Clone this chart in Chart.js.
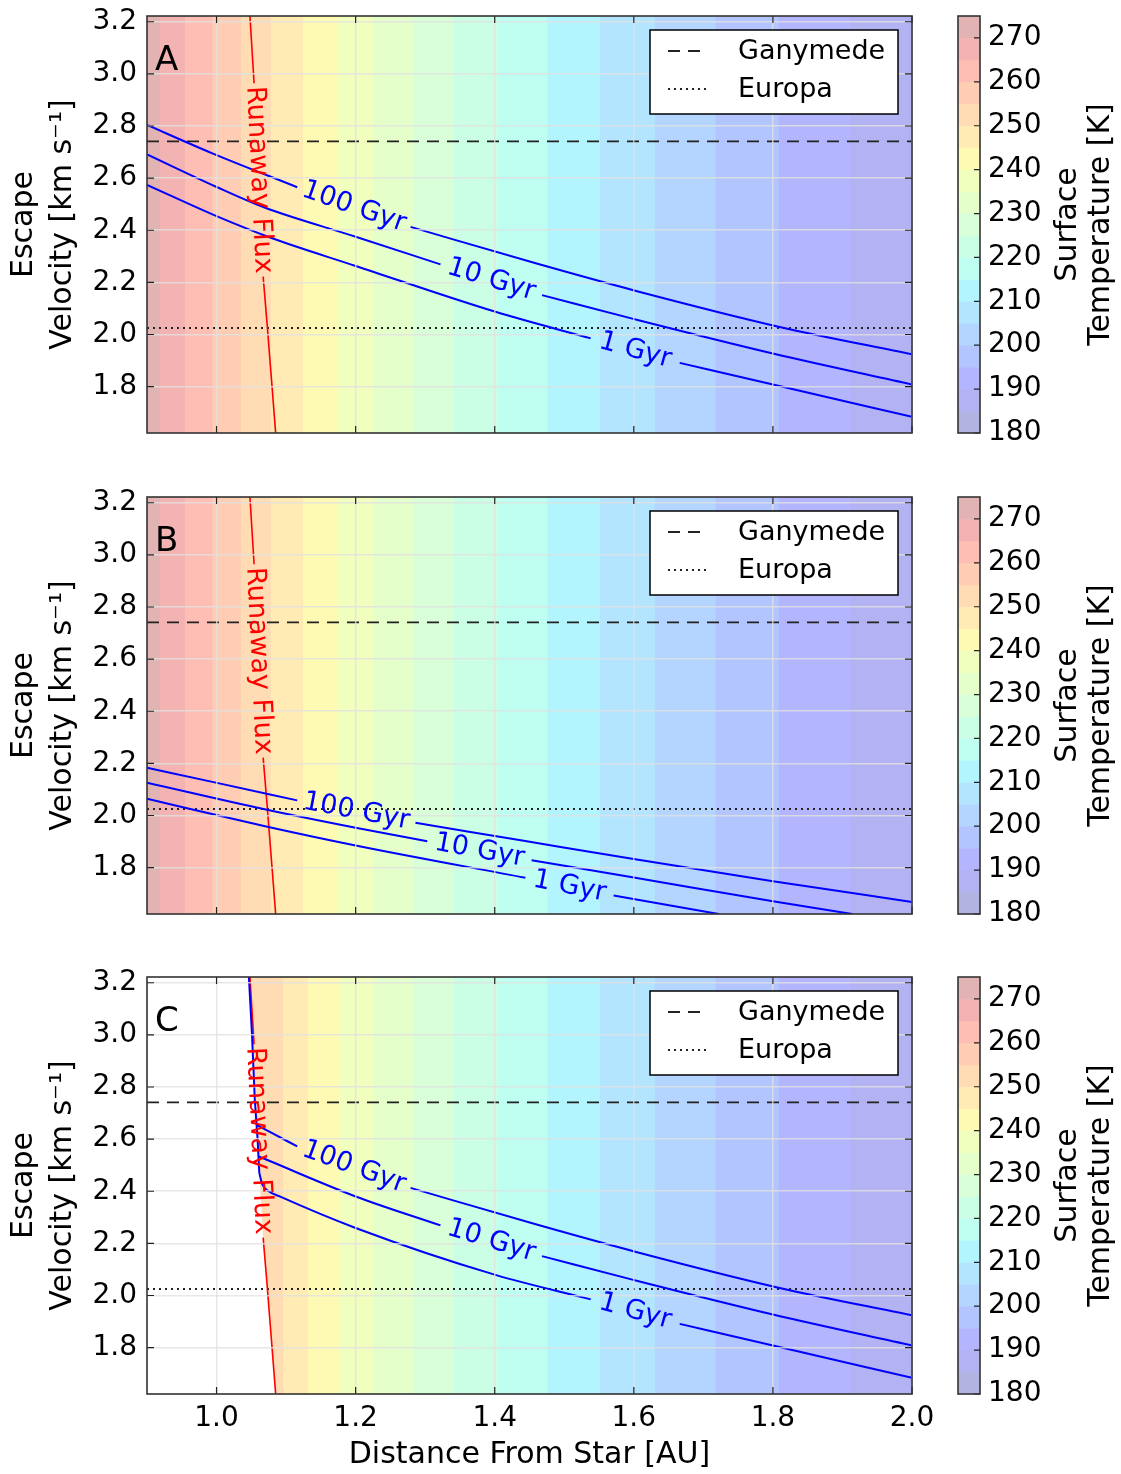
<!DOCTYPE html>
<html>
<head>
<meta charset="utf-8">
<script src="https://cdn.jsdelivr.net/npm/chart.js@4.4.1/dist/chart.umd.min.js"></script>
<style>
  html, body { margin: 0; padding: 0; background: #fff; }
  #wrap { position: relative; width: 1121px; height: 1474px; overflow: hidden; }
  canvas { position: absolute; }
</style>
</head>
<body>
<div id="wrap">
  <canvas id="plotA" width="940" height="481" style="left:0;top:0"></canvas>
  <canvas id="barA" width="181" height="481" style="left:940px;top:0"></canvas>
  <canvas id="plotB" width="940" height="481" style="left:0;top:481px"></canvas>
  <canvas id="barB" width="181" height="481" style="left:940px;top:481px"></canvas>
  <canvas id="plotC" width="940" height="513" style="left:0;top:961px"></canvas>
  <canvas id="barC" width="181" height="481" style="left:940px;top:961px"></canvas>
</div>
<script>
const FONT = '"DejaVu Sans", "Liberation Sans", sans-serif';

// axes
const X_MIN = 0.9, X_MAX = 2.0;
const Y_MIN = 1.622, Y_MAX = 3.222;
const xTicks = [1.0, 1.2, 1.4, 1.6, 1.8, 2.0];
const yTicks = [1.8, 2.0, 2.2, 2.4, 2.6, 2.8, 3.0, 3.2];
const tempTicks = [180, 190, 200, 210, 220, 230, 240, 250, 260, 270];

// temperature contour levels [K] and where each isotherm sits [AU]
const tempLevels = [275, 270, 265, 260, 255, 250, 245, 240, 235, 230, 225, 220, 215, 210, 205, 200, 195, 190, 185, 180];
const isothermsAB = [0.9185, 0.9545, 0.9939, 1.0345, 1.0777, 1.1241, 1.1735, 1.2262, 1.2836, 1.3411,
  1.4035, 1.4754, 1.5506, 1.6301, 1.7173, 1.8083, 1.9114];
const isothermsC = [0.9185, 0.9545, 0.9939, 1.0345, 1.0956, 1.1316, 1.1760, 1.2262, 1.2836, 1.3411,
  1.4035, 1.4754, 1.5506, 1.6301, 1.7173, 1.8083, 1.9114];

// reference moons
const refNames = ['Ganymede', 'Europa'];
const refValues = [2.741, 2.025];

// runaway greenhouse flux limit (split around its label)
const runawayUpper = [[1.048, 3.222], [1.054, 2.964]];
const runawayLower = [[1.067, 2.222], [1.073, 2.030], [1.085, 1.622]];

// panel A: escape velocity for retention over 100 / 10 / 1 Gyr
const A_100_l = [[0.900, 2.804], [0.994, 2.695], [1.116, 2.565]];
const A_100_r = [[1.279, 2.413], [1.459, 2.273], [1.602, 2.168], [1.808, 2.030], [2.000, 1.924]];
const A_10_l = [[0.900, 2.691], [1.000, 2.566], [1.068, 2.488], [1.200, 2.375], [1.322, 2.269]];
const A_10_r = [[1.468, 2.151], [1.602, 2.058], [1.800, 1.927], [2.000, 1.808]];
const A_1_l = [[0.900, 2.574], [1.000, 2.454], [1.080, 2.369], [1.200, 2.263], [1.401, 2.087], [1.538, 1.985]];
const A_1_r = [[1.666, 1.891], [1.800, 1.808], [2.000, 1.684]];

// panel B
const B_100_l = [[0.900, 2.183], [0.994, 2.129], [1.116, 2.058]];
const B_100_r = [[1.286, 1.972], [1.444, 1.902], [1.602, 1.832], [1.800, 1.748], [2.000, 1.668]];
const B_10_l = [[0.900, 2.126], [1.071, 2.023], [1.200, 1.953], [1.303, 1.901]];
const B_10_r = [[1.453, 1.828], [1.602, 1.761], [1.800, 1.671], [1.914, 1.622]];
const B_1_l = [[0.900, 2.064], [1.073, 1.957], [1.200, 1.885], [1.444, 1.761]];
const B_1_r = [[1.571, 1.693], [1.722, 1.622]];

// panel C: shared contour edge along the no-data boundary, then branches (right parts follow panel A)
const C_edge = [[1.0465, 3.222], [1.051, 3.000], [1.055, 2.750], [1.059, 2.600], [1.0615, 2.470]];
const C_100_l = [[1.0575, 2.655], [1.080, 2.623], [1.116, 2.572]];
const C_10_l = [[1.0605, 2.534], [1.080, 2.512], [1.200, 2.380], [1.322, 2.269]];
const C_1_l = [[1.0615, 2.470], [1.066, 2.425], [1.075, 2.400], [1.090, 2.381], [1.200, 2.259], [1.401, 2.079], [1.538, 1.985]];
const noDataC = [[0.900, 3.222], [1.0465, 3.222], [1.051, 3.000], [1.055, 2.750], [1.059, 2.600], [1.0615, 2.470],
  [1.067, 2.222], [1.073, 2.030], [1.085, 1.622]];

// styles
const BLUE = '#0000ff', RED = '#ff0000';
const GRID = 'rgba(225,225,225,0.8)';
const REF_COLOR = '#222';
const REF_DASH = [[12, 8], [2, 4]];
const REF_WIDTH = [1.8, 2];
const FILL_ALPHA = 0.3;
const JET_R = [[0, 0], [0.35, 0], [0.66, 1], [0.89, 1], [1, 0.5]];
const JET_G = [[0, 0], [0.125, 0], [0.375, 1], [0.64, 1], [0.91, 0], [1, 0]];
const JET_B = [[0, 0.5], [0.11, 1], [0.34, 1], [0.65, 0], [1, 0]];

function jetChannel(t, pts) {
  for (let i = 1; i < pts.length; i++) {
    if (t <= pts[i][0]) {
      const [x0, y0] = pts[i - 1], [x1, y1] = pts[i];
      return y0 + (y1 - y0) * (t - x0) / (x1 - x0);
    }
  }
  return pts[pts.length - 1][1];
}

function tempColor(T) {
  const lo = tempLevels[tempLevels.length - 1], hi = tempLevels[0];
  const t = (T - lo) / (hi - lo);
  const c = [JET_R, JET_G, JET_B].map(p => Math.round(255 * (1 - FILL_ALPHA + FILL_ALPHA * jetChannel(t, p))));
  return `rgb(${c[0]},${c[1]},${c[2]})`;
}

function xy(pts) { return pts.map(([x, y]) => ({ x, y })); }

function curveSet(pts, color, width, order, straight) {
  const ds = { data: xy(pts), borderColor: color, borderWidth: width, fill: false, order };
  if (!straight) ds.cubicInterpolationMode = 'monotone';
  return ds;
}

function drawInline(ctx, chart, text, p1, p2, color) {
  const xs = chart.scales.x, ys = chart.scales.y;
  const x1 = xs.getPixelForValue(p1[0]), y1 = ys.getPixelForValue(p1[1]);
  const x2 = xs.getPixelForValue(p2[0]), y2 = ys.getPixelForValue(p2[1]);
  ctx.save();
  ctx.translate((x1 + x2) / 2, (y1 + y2) / 2);
  ctx.rotate(Math.atan2(y2 - y1, x2 - x1));
  ctx.font = `27px ${FONT}`;
  ctx.fillStyle = color;
  ctx.textAlign = 'center';
  ctx.textBaseline = 'middle';
  ctx.fillText(text, 0, 0);
  ctx.restore();
}

function panelDecor(cfg) {
  return {
    id: 'panelDecor',
    afterDraw(chart) {
      const { ctx, chartArea: a } = chart;
      const xs = chart.scales.x, ys = chart.scales.y;
      ctx.save();

      // inline contour labels
      drawInline(ctx, chart, 'Runaway Flux', runawayUpper[runawayUpper.length - 1], runawayLower[0], RED);
      cfg.curves.forEach(([text, l, r]) => drawInline(ctx, chart, text, l[l.length - 1], r[0], BLUE));

      // inward ticks
      ctx.strokeStyle = '#222';
      ctx.lineWidth = 1.2;
      ctx.beginPath();
      xTicks.forEach(v => {
        const px = xs.getPixelForValue(v);
        ctx.moveTo(px, a.bottom); ctx.lineTo(px, a.bottom - 7);
        ctx.moveTo(px, a.top); ctx.lineTo(px, a.top + 7);
      });
      yTicks.forEach(v => {
        const py = ys.getPixelForValue(v);
        ctx.moveTo(a.left, py); ctx.lineTo(a.left + 7, py);
        ctx.moveTo(a.right, py); ctx.lineTo(a.right - 7, py);
      });
      ctx.stroke();

      // frame
      ctx.strokeStyle = '#333';
      ctx.lineWidth = 1.6;
      ctx.strokeRect(a.left, a.top, a.width, a.height);

      // legend
      const lw = 248, lh = 84;
      const lx = a.right - 14 - lw, ly = a.top + 14;
      ctx.fillStyle = '#fff';
      ctx.fillRect(lx, ly, lw, lh);
      ctx.strokeStyle = '#000';
      ctx.lineWidth = 1.5;
      ctx.strokeRect(lx, ly, lw, lh);
      refNames.forEach((name, i) => {
        const yy = ly + 21 + i * 38;
        ctx.save();
        ctx.strokeStyle = REF_COLOR;
        ctx.lineWidth = REF_WIDTH[i];
        ctx.setLineDash(REF_DASH[i]);
        ctx.beginPath();
        ctx.moveTo(lx + 18, yy); ctx.lineTo(lx + 57, yy);
        ctx.stroke();
        ctx.restore();
        ctx.fillStyle = '#000';
        ctx.font = `27px ${FONT}`;
        ctx.textAlign = 'left';
        ctx.textBaseline = 'middle';
        ctx.fillText(name, lx + 88, yy + 1);
      });

      // panel letter
      ctx.fillStyle = '#000';
      ctx.font = `34px ${FONT}`;
      ctx.textAlign = 'left';
      ctx.textBaseline = 'alphabetic';
      ctx.fillText(cfg.letter, a.left + 8, a.top + 54);
      ctx.restore();
    }
  };
}

function makePanel(id, cfg) {
  const datasets = [];
  if (cfg.edge) datasets.push(curveSet(cfg.edge, BLUE, 2, 1, true));
  cfg.curves.forEach(([, l, r]) => {
    datasets.push(curveSet(l, BLUE, 2, 1), curveSet(r, BLUE, 2, 1));
  });
  datasets.push(curveSet(runawayUpper, RED, 1.6, 2), curveSet(runawayLower, RED, 1.6, 2));
  refValues.forEach((v, i) => {
    datasets.push({
      data: xy([[X_MIN, v], [X_MAX, v]]), borderColor: REF_COLOR, borderWidth: REF_WIDTH[i],
      borderDash: REF_DASH[i], fill: false, order: 3,
    });
  });
  if (cfg.noData) {
    datasets.push({
      data: xy(cfg.noData), borderColor: 'transparent', borderWidth: 0,
      backgroundColor: '#fff', fill: 'start', order: 4,
    });
  }
  [X_MIN, ...cfg.isotherms].forEach((lo, k) => {
    datasets.push({
      data: xy([[lo, Y_MAX], [X_MAX, Y_MAX]]), borderColor: 'transparent', borderWidth: 0,
      backgroundColor: tempColor((tempLevels[k] + tempLevels[k + 1]) / 2), fill: 'start', order: 100 - k,
    });
  });

  const tickFont = { family: FONT, size: 28 };
  new Chart(document.getElementById(id), {
    type: 'line',
    data: { datasets },
    options: {
      responsive: false,
      animation: false,
      events: [],
      layout: { padding: { left: 0, top: 16, right: 28, bottom: cfg.showX ? 0 : 48 } },
      elements: { point: { radius: 0 }, line: { borderCapStyle: 'butt' } },
      plugins: { legend: { display: false }, tooltip: { enabled: false } },
      scales: {
        x: {
          type: 'linear', min: X_MIN, max: X_MAX,
          afterBuildTicks: s => { s.ticks = xTicks.map(value => ({ value })); },
          afterFit: s => { s.height = cfg.showX ? 80 : 0; s.paddingLeft = 0; s.paddingRight = 0; },
          grid: { color: GRID, lineWidth: 1.5, z: 1, drawTicks: false },
          border: { display: false },
          ticks: { display: cfg.showX, padding: 8, maxRotation: 0, color: '#000', font: tickFont, callback: v => v.toFixed(1) },
          title: {
            display: cfg.showX, text: 'Distance From Star [AU]', color: '#000',
            font: { family: FONT, size: 30 }, padding: { top: 0, bottom: 1 },
          },
        },
        y: {
          type: 'linear', min: Y_MIN, max: Y_MAX,
          afterBuildTicks: s => { s.ticks = yTicks.map(value => ({ value })); },
          afterFit: s => { s.width = 147; s.paddingTop = 0; s.paddingBottom = 0; },
          grid: { color: GRID, lineWidth: 1.5, z: 1, drawTicks: false },
          border: { display: false },
          ticks: { padding: 10, color: '#000', font: tickFont, callback: v => v.toFixed(1) },
          title: {
            display: true, text: ['Escape', 'Velocity [km s\u207B\u00B9]'], color: '#000',
            font: { family: FONT, size: 30, lineHeight: 1.3 }, padding: { top: 5, bottom: 0 },
          },
        },
      },
    },
    plugins: [panelDecor(cfg)],
  });
}

const colorbarDecor = {
  id: 'colorbarDecor',
  afterDraw(chart) {
    const { ctx, chartArea: a } = chart;
    const ys = chart.scales.y;
    ctx.save();
    ctx.strokeStyle = '#222';
    ctx.lineWidth = 1.2;
    ctx.beginPath();
    tempTicks.forEach(v => {
      const py = ys.getPixelForValue(v);
      ctx.moveTo(a.right, py); ctx.lineTo(a.right - 6, py);
    });
    ctx.stroke();
    ctx.strokeStyle = '#333';
    ctx.lineWidth = 1.6;
    ctx.strokeRect(a.left, a.top, a.width, a.height);

    ctx.fillStyle = '#000';
    ctx.font = `30px ${FONT}`;
    ctx.textAlign = 'center';
    ctx.textBaseline = 'middle';
    const cy = (a.top + a.bottom) / 2;
    [['Surface', 128], ['Temperature [K]', 161]].forEach(([t, x]) => {
      ctx.save();
      ctx.translate(x, cy);
      ctx.rotate(-Math.PI / 2);
      ctx.fillText(t, 0, 0);
      ctx.restore();
    });
    ctx.restore();
  }
};

function makeColorbar(id) {
  const datasets = tempLevels.slice(0, -1).map((hi, k) => ({
    data: [[tempLevels[k + 1], hi]],
    backgroundColor: tempColor((hi + tempLevels[k + 1]) / 2),
    borderWidth: 0, barPercentage: 1, categoryPercentage: 1, grouped: false,
  }));
  new Chart(document.getElementById(id), {
    type: 'bar',
    data: { labels: [''], datasets },
    options: {
      responsive: false,
      animation: false,
      events: [],
      layout: { padding: { left: 18, top: 16, right: 0, bottom: 48 } },
      plugins: { legend: { display: false }, tooltip: { enabled: false } },
      scales: {
        x: { display: false },
        y: {
          position: 'right', min: tempLevels[tempLevels.length - 1], max: tempLevels[0],
          afterBuildTicks: s => { s.ticks = tempTicks.map(value => ({ value })); },
          afterFit: s => { s.width = 141; s.paddingTop = 0; s.paddingBottom = 0; },
          grid: { display: false, drawTicks: false },
          border: { display: false },
          ticks: { padding: 8, color: '#000', font: { family: FONT, size: 28 } },
        },
      },
    },
    plugins: [colorbarDecor],
  });
}

makePanel('plotA', {
  letter: 'A', showX: false, isotherms: isothermsAB,
  curves: [['100 Gyr', A_100_l, A_100_r], ['10 Gyr', A_10_l, A_10_r], ['1 Gyr', A_1_l, A_1_r]],
});
makePanel('plotB', {
  letter: 'B', showX: false, isotherms: isothermsAB,
  curves: [['100 Gyr', B_100_l, B_100_r], ['10 Gyr', B_10_l, B_10_r], ['1 Gyr', B_1_l, B_1_r]],
});
makePanel('plotC', {
  letter: 'C', showX: true, isotherms: isothermsC, noData: noDataC, edge: C_edge,
  curves: [['100 Gyr', C_100_l, A_100_r], ['10 Gyr', C_10_l, A_10_r], ['1 Gyr', C_1_l, A_1_r]],
});
makeColorbar('barA');
makeColorbar('barB');
makeColorbar('barC');
</script>
</body>
</html>
